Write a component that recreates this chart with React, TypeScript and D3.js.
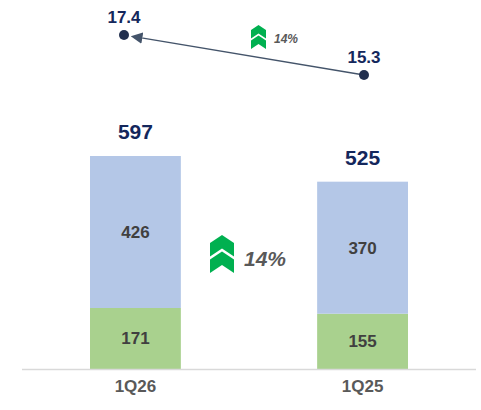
import React from 'react';
import * as d3 from 'd3';

const categories = ['1Q26', '1Q25'];
const greenValues = [171, 155];
const blueValues = [426, 370];
const totals = [597, 525];
const lineValues = [17.4, 15.3];
const growthLabel = '14%';

const W = 481;
const H = 410;

// two stacked upward chevrons
const Chevrons = ({ x, y, w, h }: { x: number; y: number; w: number; h: number }) => {
  const t = h * 0.21;
  const th = h * 0.355;
  const off = h * 0.435;
  const one = (oy: number) =>
    `M${x},${oy + t} L${x + w / 2},${oy} L${x + w},${oy + t} L${x + w},${oy + t + th} L${x + w / 2},${oy + th} L${x},${oy + t + th} Z`;
  return (
    <g fill="#00b050">
      <path d={one(y)} />
      <path d={one(y + off)} />
    </g>
  );
};

const App = () => {
  const baseline = 369;
  const x = d3.scaleBand().domain(categories).range([90, 408]).paddingInner(0.6).paddingOuter(0);
  const y = d3.scaleLinear().domain([0, 597]).range([baseline, 156]);
  const lx = d3.scalePoint().domain(categories).range([124, 364]);
  const ly = d3.scaleLinear().domain([15.3, 17.4]).range([75, 35]);

  const font = 'Arial, "Liberation Sans", sans-serif';

  return (
    <svg width={W} height={H} style={{ position: 'absolute', left: 0, top: 0, fontFamily: font }}>
      <defs>
        <marker id="arr" viewBox="0 0 10 10" refX="2" refY="5" markerWidth="9" markerHeight="9" orient="auto-start-reverse">
          <path d="M0,0 L10,5 L0,10 Z" fill="#44546a" />
        </marker>
      </defs>
      {categories.map((c, i) => {
        const bx = x(c)!;
        const bw = x.bandwidth();
        const cx = bx + bw / 2;
        const yg = y(greenValues[i]);
        const yt = y(greenValues[i] + blueValues[i]);
        return (
          <g key={c}>
            <rect x={bx} y={yg} width={bw} height={baseline - yg} fill="#a9d18e" />
            <rect x={bx} y={yt} width={bw} height={yg - yt} fill="#b4c7e7" />
            <text x={cx} y={(yg + baseline) / 2 + 6} textAnchor="middle" fontSize={17} fontWeight="bold" fill="#404040">
              {greenValues[i]}
            </text>
            <text x={cx} y={(yt + yg) / 2 + 6} textAnchor="middle" fontSize={17} fontWeight="bold" fill="#404040">
              {blueValues[i]}
            </text>
            <text x={cx} y={yt - 17} textAnchor="middle" fontSize={21} fontWeight="bold" fill="#14275c">
              {totals[i]}
            </text>
            <text x={cx} y={392} textAnchor="middle" fontSize={17} fontWeight="bold" fill="#595959">
              {c}
            </text>
          </g>
        );
      })}
      <line x1={22} x2={476} y1={baseline + 0.5} y2={baseline + 0.5} stroke="#d9d9d9" strokeWidth={1.5} />

      {/* ratio line, arrow pointing to the newer quarter */}
      <line
        x1={lx(categories[1])}
        y1={ly(lineValues[1])}
        x2={lx(categories[0])! + 16}
        y2={ly(lineValues[0]) + 2.7}
        stroke="#44546a"
        strokeWidth={1.3}
        markerEnd="url(#arr)"
      />
      {categories.map((c, i) => (
        <g key={c + 'p'}>
          <circle cx={lx(c)} cy={ly(lineValues[i])} r={5} fill="#222f4e" />
          <text x={lx(c)} y={ly(lineValues[i]) - 12} textAnchor="middle" fontSize={17} fontWeight="bold" fill="#14275c">
            {lineValues[i].toFixed(1)}
          </text>
        </g>
      ))}

      <Chevrons x={251} y={25} w={15} h={24} />
      <text x={274} y={43} fontSize={12} fontStyle="italic" fontWeight="bold" fill="#595959">
        {growthLabel}
      </text>

      <Chevrons x={210} y={235} w={24} h={38} />
      <text x={244} y={266} fontSize={21} fontStyle="italic" fontWeight="bold" fill="#595959">
        {growthLabel}
      </text>
    </svg>
  );
};

export default App;
